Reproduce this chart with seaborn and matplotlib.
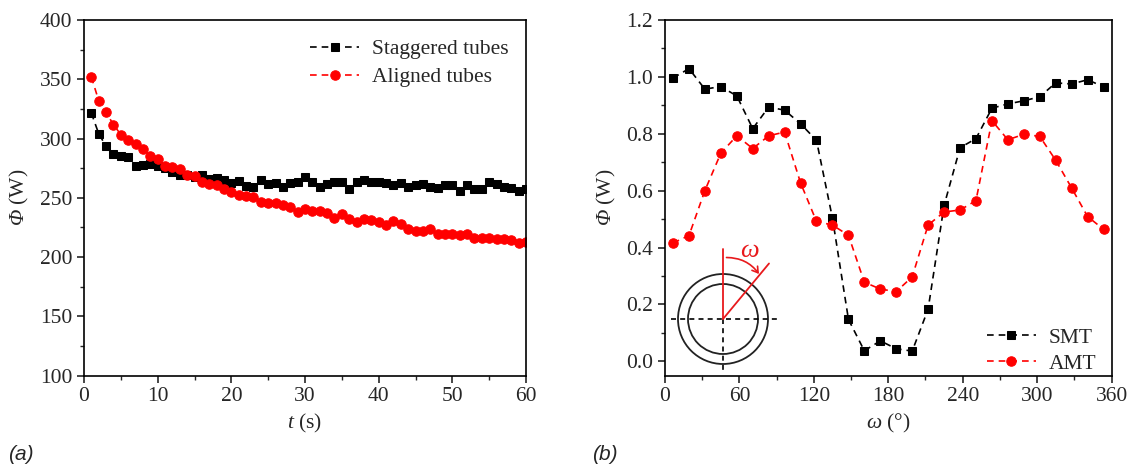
import numpy as np
import pandas as pd
import matplotlib
matplotlib.use("Agg")
import matplotlib.pyplot as plt
from matplotlib.patches import Circle, FancyArrowPatch
from matplotlib.ticker import MultipleLocator, FormatStrFormatter
import seaborn as sns

# === data: panel (a) ===
t = [1, 2, 3, 4, 5, 6, 7, 8, 9, 10, 11, 12, 13, 14, 15, 16, 17, 18, 19, 20,
     21, 22, 23, 24, 25, 26, 27, 28, 29, 30, 31, 32, 33, 34, 35, 36, 37, 38, 39, 40,
     41, 42, 43, 44, 45, 46, 47, 48, 49, 50, 51, 52, 53, 54, 55, 56, 57, 58, 59, 60]
staggered = [321.5, 304, 293.5, 287, 285.6, 284, 277, 278, 278.3, 277,
             274.7, 272, 269.4, 269, 267.4, 268.8, 266, 267, 265, 262.4,
             264, 260, 258.7, 264.6, 261.5, 262.4, 258.7, 262.6, 263.2, 267.7,
             263, 259, 262, 263, 263, 257.3, 263, 265, 263.5, 263,
             262.4, 261, 262.6, 259, 261, 262, 259.5, 258.4, 260.4, 260.7,
             256, 261, 257, 257, 263, 262, 259, 258.4, 255.6, 257]
aligned = [352, 331.9, 322, 311.7, 303.3, 299, 295, 291.5, 285.3, 282.3,
           277, 276, 274, 269.6, 268.5, 263.5, 261.8, 261, 257, 254.8,
           252.3, 251.4, 250.3, 246.4, 245.3, 245.5, 243.8, 241.9, 238, 240.2,
           239, 239, 236.8, 232.6, 236, 232.3, 229.8, 231.8, 231, 229.8,
           227.3, 230.4, 227.9, 224, 222.3, 222, 223.7, 219.5, 219.7, 219.5,
           218.3, 219.5, 215.8, 216, 215.8, 215.5, 215.2, 214, 211.6, 213]

# === data: panel (b) ===
omega = [6.4, 19.3, 32.1, 45.0, 57.9, 70.7, 83.6, 96.4, 109.3, 122.1,
         135.0, 147.9, 160.7, 173.6, 186.4, 199.3, 212.1, 225.0, 237.9, 250.7,
         263.6, 276.4, 289.3, 302.1, 315.0, 327.9, 340.7, 353.6]
smt = [0.996, 1.029, 0.957, 0.966, 0.933, 0.818, 0.894, 0.883, 0.835, 0.777,
       0.503, 0.147, 0.037, 0.072, 0.044, 0.036, 0.183, 0.548, 0.751, 0.783,
       0.890, 0.905, 0.916, 0.930, 0.979, 0.975, 0.990, 0.965]
amt = [0.416, 0.442, 0.600, 0.732, 0.793, 0.748, 0.793, 0.806, 0.627, 0.492,
       0.479, 0.443, 0.278, 0.254, 0.245, 0.297, 0.479, 0.525, 0.532, 0.565,
       0.846, 0.779, 0.798, 0.791, 0.707, 0.609, 0.509, 0.464]

df_a = pd.DataFrame({"t": t, "Staggered tubes": staggered, "Aligned tubes": aligned})
df_b = pd.DataFrame({"omega": omega, "SMT": smt, "AMT": amt})

sns.set_theme(style="ticks")
plt.rcParams["font.family"] = ["Liberation Serif", "DejaVu Serif"]
plt.rcParams["mathtext.fontset"] = "custom"
plt.rcParams["mathtext.rm"] = "Liberation Serif"
plt.rcParams["mathtext.it"] = "Liberation Serif:italic"
plt.rcParams["mathtext.sf"] = "Liberation Serif:italic"  # used for the slanted capital Phi
plt.rcParams["axes.linewidth"] = 1.2
plt.rcParams["xtick.major.width"] = 1.2
plt.rcParams["ytick.major.width"] = 1.2
plt.rcParams["xtick.minor.width"] = 1.0
plt.rcParams["ytick.minor.width"] = 1.0
plt.rcParams["xtick.major.size"] = 5
plt.rcParams["ytick.major.size"] = 5
plt.rcParams["xtick.minor.size"] = 3
plt.rcParams["ytick.minor.size"] = 3

fig = plt.figure(figsize=(11.32, 4.72), dpi=100)
ax1 = fig.add_axes([0.0742, 0.2044, 0.3905, 0.7532])
ax2 = fig.add_axes([0.5875, 0.2044, 0.3944, 0.7532])

dash = (4, 3)

def draw(ax, x, y, color, marker, ms, label):
    sns.lineplot(x=x, y=y, ax=ax, color=color, marker=marker, markersize=ms,
                 markeredgecolor=color, markerfacecolor=color, linewidth=1.2,
                 dashes=False, label=label)
    ax.lines[-1].set_dashes(dash)

draw(ax1, df_a["t"], df_a["Staggered tubes"], "black", "s", 6.2, "Staggered tubes")
draw(ax1, df_a["t"], df_a["Aligned tubes"], "red", "o", 6.8, "Aligned tubes")
draw(ax2, df_b["omega"], df_b["SMT"], "black", "s", 6.2, "SMT")
draw(ax2, df_b["omega"], df_b["AMT"], "red", "o", 6.8, "AMT")

phi_label = r"$\mathsf{Φ}$ (W)"

ax1.set_xlim(0, 60)
ax1.set_ylim(100, 400)
ax1.xaxis.set_major_locator(MultipleLocator(10))
ax1.xaxis.set_minor_locator(MultipleLocator(5))
ax1.yaxis.set_major_locator(MultipleLocator(50))
ax1.yaxis.set_minor_locator(MultipleLocator(25))
ax1.set_xlabel(r"$t$ (s)", fontsize=15.5, labelpad=4)
ax1.set_ylabel(phi_label, fontsize=15.5, labelpad=6)

ax2.set_xlim(0, 360)
ax2.set_ylim(-0.05, 1.2)
ax2.xaxis.set_major_locator(MultipleLocator(60))
ax2.xaxis.set_minor_locator(MultipleLocator(30))
ax2.yaxis.set_major_locator(MultipleLocator(0.2))
ax2.yaxis.set_minor_locator(MultipleLocator(0.1))
ax2.yaxis.set_major_formatter(FormatStrFormatter("%.1f"))
ax2.set_xlabel(r"$\mathit{ω}$ (°)", fontsize=15.5, labelpad=4)
ax2.set_ylabel(phi_label, fontsize=15.5, labelpad=6)

for ax in (ax1, ax2):
    ax.tick_params(which="both", direction="out", labelsize=15.5, top=False, right=False)
    for s in ax.spines.values():
        s.set_visible(True)
        s.set_color("black")

ax1.legend(loc="upper right", bbox_to_anchor=(1.005, 1.0), frameon=False, fontsize=15.5,
           handlelength=2.3, handletextpad=0.6, labelspacing=0.35)
ax2.legend(loc="lower right", bbox_to_anchor=(1.01, -0.05), frameon=False, fontsize=15.5,
           handlelength=2.3, handletextpad=0.6, labelspacing=0.28)

# inset sketch of the tube, drawn in figure pixel space
ov = fig.add_axes([0, 0, 1, 1])
ov.set_xlim(0, 1132)
ov.set_ylim(472, 0)
ov.axis("off")
cx, cy = 723, 319
ov.add_patch(Circle((cx, cy), 45, fill=False, ec="#222222", lw=1.3))
ov.add_patch(Circle((cx, cy), 35, fill=False, ec="#222222", lw=1.3))
ov.plot([671, 780], [cy, cy], color="black", lw=1.2, dashes=(3, 2.5))
ov.plot([cx, cx], [cy, 374], color="black", lw=1.2, dashes=(3, 2.5))
ov.plot([cx, cx], [cy, 249], color="#e8191c", lw=1.3)
ov.plot([cx, 769], [cy, 263.5], color="#e8191c", lw=1.3)
ov.add_patch(FancyArrowPatch((726.5, 257.5), (759, 274),
                             connectionstyle="arc3,rad=-0.25",
                             arrowstyle="->,head_length=4,head_width=2.5",
                             color="#e8191c", lw=1.2, shrinkA=0, shrinkB=0))
ov.text(750, 251, r"$\mathit{ω}$", color="#e8191c", fontsize=19, ha="center", va="center")

fig.text(0.007, 0.025, "(a)", fontsize=15, style="italic", family="Liberation Sans")
fig.text(0.523, 0.025, "(b)", fontsize=15, style="italic", family="Liberation Sans")

fig.savefig("out.png", dpi=100)
